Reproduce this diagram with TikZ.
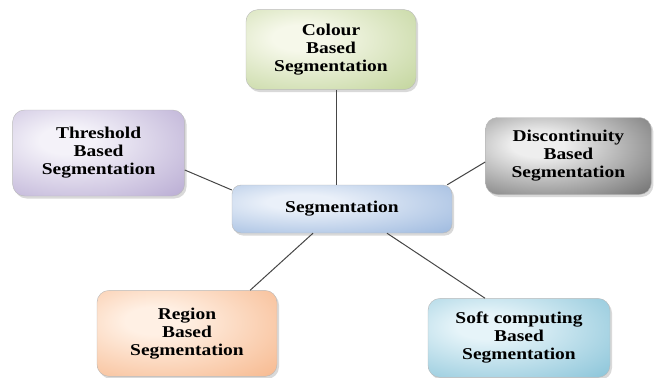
\documentclass[tikz,border=0pt]{standalone}
\usepackage{fontspec}
\setmainfont{Liberation Serif}[FakeStretch=1.18]
\usepackage{xcolor}
\usepackage{tikz}
\usetikzlibrary{positioning,shadows}
\definecolor{greenout}{RGB}{190,210,150}
\definecolor{greenin}{RGB}{246,248,234}
\definecolor{purpleout}{RGB}{180,166,208}
\definecolor{purplein}{RGB}{244,242,249}
\definecolor{greyout}{RGB}{100,100,100}
\definecolor{greyin}{RGB}{238,238,238}
\definecolor{blueout}{RGB}{150,180,220}
\definecolor{bluein}{RGB}{234,240,249}
\definecolor{peachout}{RGB}{246,180,135}
\definecolor{peachin}{RGB}{255,240,228}
\definecolor{cyanout}{RGB}{130,192,214}
\definecolor{cyanin}{RGB}{230,244,249}
\definecolor{linkgrey}{RGB}{70,70,70}
\makeatletter
\pgfdeclareradialshading[tikz@radial@inner,tikz@radial@outer]{glow}{\pgfpoint{-10bp}{8bp}}{%
  color(0bp)=(tikz@radial@inner); color(8bp)=(tikz@radial@inner);
  color(46bp)=(tikz@radial@outer); color(100bp)=(tikz@radial@outer)}
\makeatother

\begin{document}
\begin{tikzpicture}[
    x=1pt, y=-1pt,
    box/.style={draw=gray!55, rounded corners=12pt, minimum width=172pt, minimum height=80pt, align=center,
        font=\bfseries\fontsize{16.5pt}{18pt}\selectfont,
        drop shadow={shadow xshift=2pt, shadow yshift=-2.5pt, opacity=0.3}},
    hub/.style={box, minimum width=220pt, minimum height=48pt, rounded corners=9pt},
    link/.style={draw=linkgrey, line width=1pt}
]
    \useasboundingbox (0,0) rectangle (657,378);

    \node[hub, inner color=bluein, outer color=blueout, shading=glow] (seg) at (342,209) {Segmentation};
    \node[box, inner color=greenin, outer color=greenout, shading=glow, minimum width=170pt, above=95pt of seg, xshift=-11pt] (colour) {Colour\\Based\\Segmentation};
    \node[box, inner color=purplein, outer color=purpleout, shading=glow, minimum height=86pt, left=47pt of seg, yshift=56pt] (thresh) {Threshold\\Based\\Segmentation};
    \node[box, inner color=greyin, outer color=greyout, shading=glow, minimum width=166pt, minimum height=77pt, right=33pt of seg, yshift=53pt] (disc) {Discontinuity\\Based\\Segmentation};
    \node[box, inner color=peachin, outer color=peachout, shading=glow, minimum width=180pt, minimum height=86pt, below=57pt of seg, xshift=-155pt] (region) {Region\\Based\\Segmentation};
    \node[box, inner color=cyanin, outer color=cyanout, shading=glow, minimum width=182pt, minimum height=79pt, below=65pt of seg, xshift=177pt] (soft) {Soft computing\\Based\\Segmentation};

    % connectors
    \draw[link] ([xshift=5pt]colour.south) -- ([xshift=5pt]colour.south |- seg.north);
    \draw[link] ([yshift=-17pt]thresh.east) -- ([yshift=19pt]seg.west);
    \draw[link] ([yshift=-6pt]disc.west) -- ([xshift=-5pt]seg.north east);
    \draw[link] ([xshift=-29pt]seg.south) -- ([xshift=-27pt]region.north east);
    \draw[link] ([xshift=45pt]seg.south) -- ([xshift=-34pt]soft.north);
\end{tikzpicture}
\end{document}
